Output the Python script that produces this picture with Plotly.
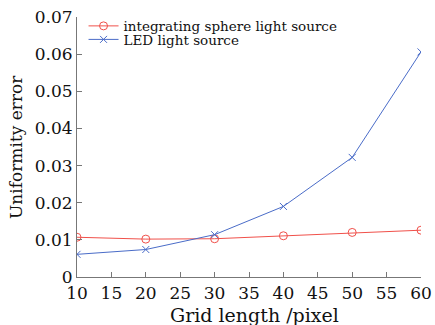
import plotly.graph_objects as go

grid_length = [10, 20, 30, 40, 50, 60]
sphere_err = [0.0107, 0.0102, 0.0103, 0.0111, 0.0120, 0.0126]
led_err = [0.0061, 0.0074, 0.0114, 0.0190, 0.0322, 0.0606]
x_ticks = [10, 15, 20, 25, 30, 35, 40, 45, 50, 55, 60]
y_ticks = [0, 0.01, 0.02, 0.03, 0.04, 0.05, 0.06, 0.07]
y_ticktext = ["0", "0.01", "0.02", "0.03", "0.04", "0.05", "0.06", "0.07"]
x_title = "Grid length /pixel"
y_title = "Uniformity error"

font_fam = "DejaVu Serif"
fig = go.Figure()
fig.add_trace(go.Scatter(
    x=grid_length, y=sphere_err, mode="lines+markers",
    name="integrating sphere light source", legend="legend",
    line=dict(color="#f0504a", width=1),
    marker=dict(symbol="circle-open", size=8, color="#f0504a", line=dict(width=1)),
))
fig.add_trace(go.Scatter(
    x=grid_length, y=led_err, mode="lines+markers",
    name="LED light source", legend="legend2",
    line=dict(color="#4a6cc8", width=1),
    marker=dict(symbol="x-thin-open", size=7, color="#4a6cc8", line=dict(width=1, color="#4a6cc8")),
))
leg_common = dict(xanchor="left", yanchor="middle", bgcolor="rgba(0,0,0,0)",
                  font=dict(size=13.5, family=font_fam, color="#111"))
fig.update_layout(
    width=435, height=325,
    margin=dict(l=77, r=14, t=17, b=48, autoexpand=False),
    paper_bgcolor="white", plot_bgcolor="white",
    font=dict(family=font_fam, color="#111"),
    showlegend=True,
    legend=dict(x=0.019, y=0.965, **leg_common),
    legend2=dict(x=0.019, y=0.913, **leg_common),
    xaxis=dict(range=[10, 60], tickvals=x_ticks, ticks="inside", ticklen=5,
               tickcolor="#777", showline=True, linecolor="#777", linewidth=1,
               showgrid=False, zeroline=False, tickfont=dict(size=17),
               ticklabelstandoff=1, automargin=False),
    yaxis=dict(range=[0, 0.07], tickvals=y_ticks, ticktext=y_ticktext,
               ticks="inside", ticklen=5, tickcolor="#777", showline=True,
               linecolor="#777", linewidth=1, showgrid=False, zeroline=False,
               tickfont=dict(size=17), automargin=False),
    annotations=[
        dict(text=x_title, xref="paper", yref="paper", x=0.5, y=0,
             xshift=5, yshift=-38, xanchor="center", yanchor="middle", showarrow=False,
             font=dict(size=19, family=font_fam, color="#111")),
        dict(text=y_title, xref="paper", yref="paper", x=0, y=0.5,
             xshift=-61, xanchor="center", yanchor="middle", textangle=-90,
             showarrow=False, font=dict(size=17, family=font_fam, color="#111")),
    ],
)
fig.write_html("out.html", config={"displayModeBar": False},
               post_script="document.body.style.margin='0';")
